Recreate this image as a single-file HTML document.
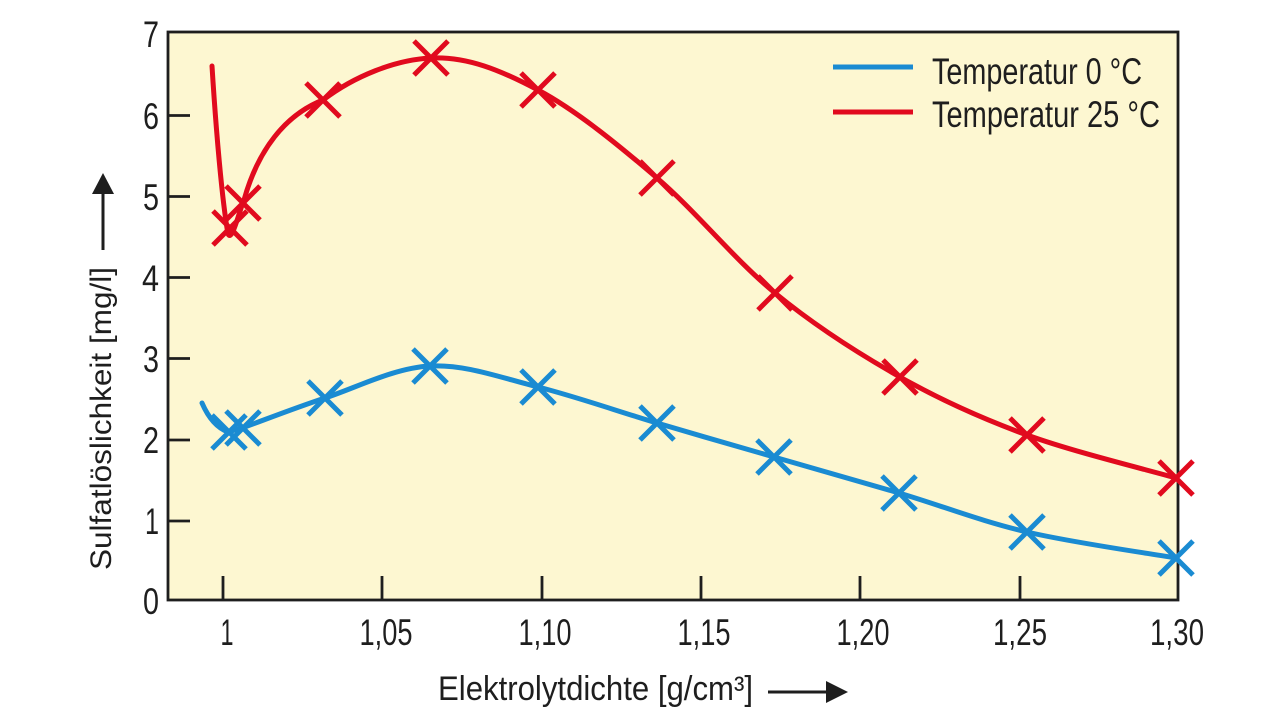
<!DOCTYPE html>
<html>
<head>
<meta charset="utf-8">
<style>
  html,body{margin:0;padding:0;background:#ffffff;}
  body{width:1280px;height:719px;overflow:hidden;}
  svg{display:block;}
  text{font-family:"Liberation Sans Narrow","Liberation Sans",sans-serif;fill:#1e1e1e;}
</style>
</head>
<body>
<svg width="1280" height="719" viewBox="0 0 1280 719" xmlns="http://www.w3.org/2000/svg">
  <!-- plot background -->
  <rect x="168" y="32" width="1010" height="568" fill="#fdf7d1"/>

  <!-- ticks -->
  <g stroke="#1e1e1e" stroke-width="2.8" fill="none">
    <line x1="223" y1="600" x2="223" y2="576"/>
    <line x1="382" y1="600" x2="382" y2="576"/>
    <line x1="542" y1="600" x2="542" y2="576"/>
    <line x1="701" y1="600" x2="701" y2="576"/>
    <line x1="860" y1="600" x2="860" y2="576"/>
    <line x1="1020" y1="600" x2="1020" y2="576"/>
    <line x1="168" y1="521" x2="190" y2="521"/>
    <line x1="168" y1="440" x2="190" y2="440"/>
    <line x1="168" y1="358.5" x2="190" y2="358.5"/>
    <line x1="168" y1="277.5" x2="190" y2="277.5"/>
    <line x1="168" y1="196.5" x2="190" y2="196.5"/>
    <line x1="168" y1="115.5" x2="190" y2="115.5"/>
  </g>

  <!-- frame -->
  <rect x="168" y="32" width="1010" height="568" fill="none" stroke="#1e1e1e" stroke-width="2.8"/>

  <!-- y tick labels -->
  <g font-size="37" text-anchor="end">
    <text x="159" y="614" textLength="16" lengthAdjust="spacingAndGlyphs">0</text>
    <text x="159" y="534" textLength="14" lengthAdjust="spacingAndGlyphs">1</text>
    <text x="159" y="453" textLength="16" lengthAdjust="spacingAndGlyphs">2</text>
    <text x="159" y="372" textLength="16" lengthAdjust="spacingAndGlyphs">3</text>
    <text x="159" y="291" textLength="17" lengthAdjust="spacingAndGlyphs">4</text>
    <text x="159" y="210" textLength="16" lengthAdjust="spacingAndGlyphs">5</text>
    <text x="159" y="129" textLength="16" lengthAdjust="spacingAndGlyphs">6</text>
    <text x="159" y="47" textLength="16" lengthAdjust="spacingAndGlyphs">7</text>
  </g>

  <!-- x tick labels -->
  <g font-size="37" text-anchor="middle">
    <text x="227" y="645" textLength="13" lengthAdjust="spacingAndGlyphs">1</text>
    <text x="386" y="645" textLength="53" lengthAdjust="spacingAndGlyphs">1,05</text>
    <text x="545" y="645" textLength="53" lengthAdjust="spacingAndGlyphs">1,10</text>
    <text x="704" y="645" textLength="53" lengthAdjust="spacingAndGlyphs">1,15</text>
    <text x="863" y="645" textLength="53" lengthAdjust="spacingAndGlyphs">1,20</text>
    <text x="1020" y="645" textLength="54" lengthAdjust="spacingAndGlyphs">1,25</text>
    <text x="1177" y="645" textLength="54" lengthAdjust="spacingAndGlyphs">1,30</text>
  </g>

  <!-- x axis label + arrow -->
  <text x="438" y="700" font-size="34" textLength="315" lengthAdjust="spacingAndGlyphs">Elektrolytdichte [g/cm³]</text>
  <line x1="768" y1="692" x2="828" y2="692" stroke="#1e1e1e" stroke-width="3"/>
  <polygon points="826,681 848,692 826,703" fill="#1e1e1e"/>

  <!-- y axis label + arrow -->
  <text transform="translate(111,570) rotate(-90)" x="0" y="0" font-size="30" textLength="303" lengthAdjust="spacingAndGlyphs">Sulfatlöslichkeit [mg/l]</text>
  <line x1="103" y1="250" x2="103" y2="190" stroke="#1e1e1e" stroke-width="3"/>
  <polygon points="92,194 103,173 114,194" fill="#1e1e1e"/>

  <!-- red curve (25 °C) -->
  <path d="M212,66 C216,130 222,200 228,234 C232,242 238,215 244,200 C258,150 285,115 323,100
           C354.2,76.3 395.2,59.7 431,58
           C466.8,56.3 500.3,70 538,90
           C575.7,110 617.5,144.2 657,178
           C696.5,211.8 734.5,259.8 775,293
           C815.5,326.2 858,353.3 900,377
           C942,400.7 981,418.2 1027,435
           C1073,451.8 1151.2,470.8 1176,478"
        fill="none" stroke="#e10a1e" stroke-width="5" stroke-linecap="round" stroke-linejoin="round"/>

  <!-- blue curve (0 °C) -->
  <path d="M202,403 Q212,426 228,432 L242,428
           C258.2,422.3 293.7,408.3 325,398
           C356.3,387.7 394.5,367.8 430,366
           C465.5,364.2 500.2,377.5 538,387
           C575.8,396.5 617.7,411.3 657,423
           C696.3,434.7 733.7,445.3 774,457
           C814.3,468.7 856.8,480.5 899,493
           C941.2,505.5 980.8,521.2 1027,532
           C1073.2,542.8 1151.2,553.7 1176,558"
        fill="none" stroke="#1a8bd2" stroke-width="5" stroke-linecap="round" stroke-linejoin="round"/>

  <!-- red markers -->
  <g stroke="#e10a1e" stroke-width="5" fill="none">
    <path d="M213,211 l34,34 M213,245 l34,-34"/>
    <path d="M226,186 l34,34 M226,220 l34,-34"/>
    <path d="M306,83 l34,34 M306,117 l34,-34"/>
    <path d="M414,41 l34,34 M414,75 l34,-34"/>
    <path d="M521,73 l34,34 M521,107 l34,-34"/>
    <path d="M640,161 l34,34 M640,195 l34,-34"/>
    <path d="M758,276 l34,34 M758,310 l34,-34"/>
    <path d="M883,360 l34,34 M883,394 l34,-34"/>
    <path d="M1010,418 l34,34 M1010,452 l34,-34"/>
    <path d="M1159,461 l34,34 M1159,495 l34,-34"/>
  </g>

  <!-- blue markers -->
  <g stroke="#1a8bd2" stroke-width="5" fill="none">
    <path d="M212,415 l34,34 M212,449 l34,-34"/>
    <path d="M226,411 l34,34 M226,445 l34,-34"/>
    <path d="M308,381 l34,34 M308,415 l34,-34"/>
    <path d="M413,349 l34,34 M413,383 l34,-34"/>
    <path d="M521,370 l34,34 M521,404 l34,-34"/>
    <path d="M640,406 l34,34 M640,440 l34,-34"/>
    <path d="M757,440 l34,34 M757,474 l34,-34"/>
    <path d="M882,476 l34,34 M882,510 l34,-34"/>
    <path d="M1010,515 l34,34 M1010,549 l34,-34"/>
    <path d="M1159,541 l34,34 M1159,575 l34,-34"/>
  </g>

  <!-- legend -->
  <line x1="833" y1="67" x2="913" y2="67" stroke="#1a8bd2" stroke-width="5"/>
  <line x1="833" y1="112" x2="913" y2="112" stroke="#e10a1e" stroke-width="5"/>
  <text x="932" y="84" font-size="37" textLength="210" lengthAdjust="spacingAndGlyphs">Temperatur 0 °C</text>
  <text x="932" y="127" font-size="37" textLength="228" lengthAdjust="spacingAndGlyphs">Temperatur 25 °C</text>
</svg>
</body>
</html>
